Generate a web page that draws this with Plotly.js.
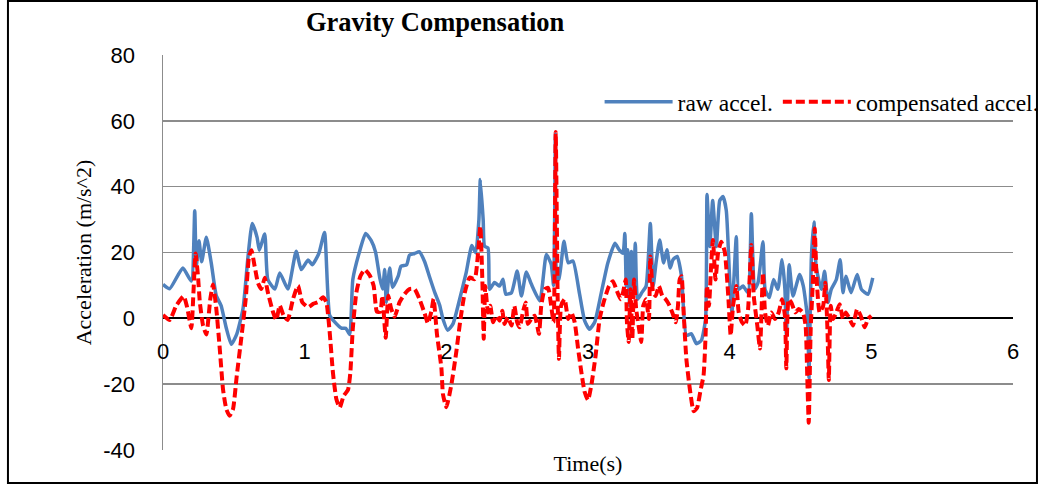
<!DOCTYPE html>
<html>
<head>
<meta charset="utf-8">
<script src="https://cdn.plot.ly/plotly-3.0.1.min.js"></script>
<style>html,body{margin:0;padding:0;background:#fff;}#chart{width:1046px;height:487px;}</style>
</head>
<body>
<div id="chart"></div>
<script>
// Time stamps (s) and raw acceleration (m/s^2)
const tRaw = [0,0.047,0.14,0.2,0.224,0.235,0.254,0.273,0.306,0.341,0.376,0.41,0.447,0.482,0.52,0.565,0.6,0.63,0.664,0.68,0.718,0.74,0.79,0.824,0.882,0.94,0.976,1.024,1.054,1.1,1.14,1.176,1.21,1.26,1.29,1.318,1.34,1.39,1.43,1.47,1.5,1.53,1.55,1.565,1.576,1.6,1.62,1.66,1.68,1.72,1.74,1.776,1.81,1.847,1.88,1.918,1.953,1.976,2.01,2.047,2.094,2.14,2.18,2.207,2.23,2.24,2.26,2.27,2.294,2.306,2.34,2.376,2.4,2.42,2.46,2.5,2.53,2.565,2.6,2.66,2.706,2.74,2.757,2.77,2.782,2.795,2.83,2.86,2.894,2.94,2.976,3.01,3.047,3.094,3.14,3.19,3.22,3.247,3.26,3.27,3.28,3.294,3.306,3.32,3.334,3.35,3.38,3.41,3.44,3.46,3.48,3.506,3.534,3.557,3.58,3.6,3.63,3.66,3.694,3.73,3.765,3.8,3.83,3.84,3.86,3.88,3.906,3.93,3.953,3.976,4.0,4.016,4.047,4.064,4.094,4.13,4.153,4.176,4.2,4.235,4.25,4.28,4.31,4.34,4.37,4.39,4.4,4.42,4.447,4.494,4.52,4.55,4.56,4.576,4.595,4.61,4.647,4.67,4.694,4.717,4.753,4.78,4.8,4.82,4.857,4.9,4.93,4.976,5.01];
const rawAccel = [10.3,9,15.3,11.3,32.7,15.8,23.6,17.2,24.6,16.7,6.9,3.9,-3,-7.9,-4.9,3,18.7,28.8,24.6,20.7,25.6,11.8,8.9,13.8,8.9,20.4,14.8,17.7,16.3,19.7,26.1,1,-1,-3,-3,-4.9,11.8,20.7,25.8,23.6,20.2,12.3,8.9,14.8,4.9,15.3,9.4,12.8,15.8,16.3,19.2,19.7,20.2,17.2,12.8,7.9,4,-0.2,-3.6,-1.7,5.8,13.9,22.1,19.9,30,42.2,30,21.9,21.4,8.8,10.9,9.8,11.9,7.3,7.8,14.4,6.8,14.1,10.4,5.3,19.4,16.4,10,56,12,11.9,23.4,16.9,17.4,7.5,-0.7,-3.3,-1.2,7.8,16.8,22.8,20.8,19.8,25.8,9.8,20.8,3.8,20.3,8.8,22.8,5.8,7.8,9.8,28.8,9.8,16.8,23.8,16.8,20.8,15.3,17.8,18.8,12.8,-5.2,-4.7,-7.7,-6.7,-0.2,37.6,21.8,35.8,21.8,35.8,37,32.8,11.8,1.8,24.8,8.8,9.8,7.8,31.8,8.8,10.8,23.3,8.8,6.3,11.8,8.8,17.8,8.8,-5,16.3,6.8,13.3,9.8,-0.2,-18,17.8,29.3,15.8,8.8,14.3,4.8,8.8,11.8,17.8,7.8,12.8,7.8,13.3,8.8,7.3,12.3];

// Time stamps (s) and gravity-compensated acceleration (m/s^2)
const tComp = [0,0.047,0.094,0.146,0.17,0.2,0.216,0.23,0.247,0.26,0.282,0.306,0.334,0.353,0.376,0.4,0.424,0.447,0.47,0.494,0.52,0.553,0.584,0.607,0.624,0.647,0.67,0.694,0.718,0.74,0.776,0.8,0.824,0.85,0.88,0.918,0.953,0.983,1.024,1.06,1.094,1.13,1.153,1.176,1.2,1.224,1.247,1.275,1.306,1.322,1.34,1.365,1.393,1.424,1.46,1.487,1.51,1.534,1.548,1.572,1.59,1.61,1.635,1.67,1.706,1.74,1.776,1.81,1.847,1.87,1.894,1.91,1.934,1.965,1.976,2.0,2.035,2.07,2.1,2.13,2.165,2.2,2.224,2.24,2.254,2.264,2.275,2.294,2.31,2.33,2.353,2.376,2.395,2.41,2.435,2.46,2.48,2.5,2.518,2.54,2.56,2.576,2.6,2.624,2.654,2.67,2.694,2.718,2.74,2.757,2.772,2.786,2.795,2.81,2.835,2.86,2.882,2.906,2.93,2.953,2.976,3.0,3.024,3.054,3.082,3.11,3.148,3.176,3.2,3.23,3.247,3.266,3.275,3.287,3.3,3.313,3.325,3.34,3.357,3.376,3.39,3.41,3.43,3.44,3.46,3.478,3.5,3.525,3.548,3.57,3.595,3.62,3.635,3.647,3.66,3.675,3.694,3.718,3.746,3.77,3.793,3.816,3.83,3.84,3.854,3.87,3.882,3.9,3.918,3.94,3.965,3.99,4.007,4.024,4.047,4.064,4.087,4.11,4.13,4.153,4.17,4.195,4.214,4.235,4.25,4.27,4.294,4.32,4.346,4.37,4.39,4.4,4.416,4.435,4.464,4.487,4.517,4.536,4.548,4.558,4.572,4.588,4.6,4.614,4.635,4.66,4.675,4.69,4.7,4.713,4.73,4.753,4.776,4.8,4.82,4.847,4.87,4.9,4.925,4.953,4.976,5.0];
const compAccel = [1,-0.5,3.9,6.7,3.4,-3,8.9,19.7,12.8,4.9,-2,-4.9,5.9,10.3,3,-8.9,-21.7,-27.6,-29.6,-27.6,-17.7,-5.9,5.9,18.7,20.7,15.8,10.8,8.9,12.3,7.9,2,-0.5,3.9,1,-0.5,5.9,9.9,4.9,3.4,4.4,4.9,6.4,4.9,-3.9,-16.7,-24.6,-27.1,-23.6,-21.7,-16.7,-3,7.9,12.8,14.8,13,9.9,2,2,6.9,-5.9,6.9,3,0.5,4.9,7.4,8.9,8.9,5.9,1.5,-1.5,2,5.9,-4.9,-15,-23,-27,-20.3,-10.3,-0.2,7.8,12.4,11.9,19.9,27.9,11.9,-6.2,9.8,1.8,3.8,-1.2,0.8,-0.7,2.3,-1.7,0.3,-2.2,3.8,-1.2,-2.7,1.8,4.8,-1.7,-0.2,0.8,-4.7,3.8,8.8,9.3,3.8,-1.2,56.6,5.8,-12.3,3.8,5.8,-0.2,1.8,-1.2,-9.2,-16.3,-22.3,-24.8,-20.2,-11.2,-0.2,4.8,9.8,11.3,8.8,5.8,7.8,11.8,-1.2,-7.2,8.8,-6.2,11.8,2.8,-2.2,-7.2,3.8,5.8,-0.2,18.8,7.8,6.8,9.8,6.8,5.8,4.3,1.8,-1.2,3.8,11.8,12.8,1.8,-12.2,-21.2,-28.2,-27.2,-22.2,-17.2,-5.2,9.8,3.8,16.8,23.8,11.8,19.8,23.3,20.3,6.8,-5.2,3.8,9.8,1.8,-1.2,-2.2,2.8,22.3,6.8,-2.2,-9.2,13.8,1.8,-2.2,1.8,-0.2,1.8,5.8,0.8,-15.2,5.8,4.8,1.8,2.8,1.8,-2.2,-18.2,-31.7,-3.2,11.8,27.3,11.8,1.8,3.8,10.8,-3.2,-18.7,3.8,-0.2,1.8,4.3,-0.2,1.8,-0.2,-2.2,2.8,0.8,-2.7,-0.2,0.8];

const seriesNames = ["raw accel.", "compensated accel."];
const xTickVals = [0,1,2,3,4,5,6];
const xTickText = ["0","1","2","3","4","5","6"];
const yTickVals = [-40,-20,0,20,40,60,80];
const yTickText = ["-40","-20","0","20","40","60","80"];

const traces = [
  {x: tRaw, y: rawAccel, name: seriesNames[0], type: "scatter", mode: "lines",
   line: {color: "#4F81BD", width: 3.5, shape: "spline", smoothing: 0.5}},
  {x: tComp, y: compAccel, name: seriesNames[1], type: "scatter", mode: "lines",
   line: {color: "#FF0000", width: 4, dash: "9px,4px", shape: "spline", smoothing: 0.5}}
];

const layout = {
  width: 1046, height: 487,
  margin: {l: 163, r: 33, t: 55, b: 37, autoexpand: false},
  paper_bgcolor: "#ffffff", plot_bgcolor: "#ffffff",
  showlegend: true,
  title: {text: "<b>Gravity Compensation</b>", x: 0.416, xref: "container", xanchor: "center",
          y: 0.955, yref: "container", yanchor: "middle",
          font: {family: "Liberation Serif, Times New Roman, serif", size: 26.5, color: "#000"}},
  xaxis: {range: [0, 6], tickvals: xTickVals, ticktext: xTickText, showgrid: false, zeroline: false,
          anchor: "free", position: 1/3, showline: false, ticks: "", ticklabelstandoff: 18,
          tickfont: {family: "Liberation Sans, Arial, sans-serif", size: 22, color: "#000"},
          title: {text: "Time(s)", standoff: 92, font: {family: "Liberation Serif, Times New Roman, serif", size: 22, color: "#000"}},
          automargin: false, fixedrange: true},
  yaxis: {range: [-40, 80], tickvals: yTickVals, ticktext: yTickText, showgrid: true,
          gridcolor: "#8c8c8c", gridwidth: 1.5, showline: true, linecolor: "#8c8c8c", linewidth: 1.5,
          zeroline: true, zerolinecolor: "#000", zerolinewidth: 2, ticks: "", ticklabelstandoff: 22,
          tickfont: {family: "Liberation Sans, Arial, sans-serif", size: 22, color: "#000"},
          title: {text: "Acceleration (m/s^2)", standoff: 5, font: {family: "Liberation Serif, Times New Roman, serif", size: 22, color: "#000"}},
          automargin: false, fixedrange: true},
  legend: {orientation: "h", x: 1.036, xanchor: "right", y: 0.881, yanchor: "middle",
           bgcolor: "rgba(0,0,0,0)", itemwidth: 68, traceorder: "normal",
           font: {family: "Liberation Serif, Times New Roman, serif", size: 23.5, color: "#000"}},
  shapes: [
    {type: "rect", xref: "paper", yref: "paper", x0: -0.1824, x1: 1.0282, y0: -0.0835, y1: 1.137,
     line: {color: "#000", width: 2}, fillcolor: "rgba(0,0,0,0)", layer: "below"}
  ]
};

Plotly.newPlot("chart", traces, layout, {displayModeBar: false, staticPlot: true});
</script>
</body>
</html>
